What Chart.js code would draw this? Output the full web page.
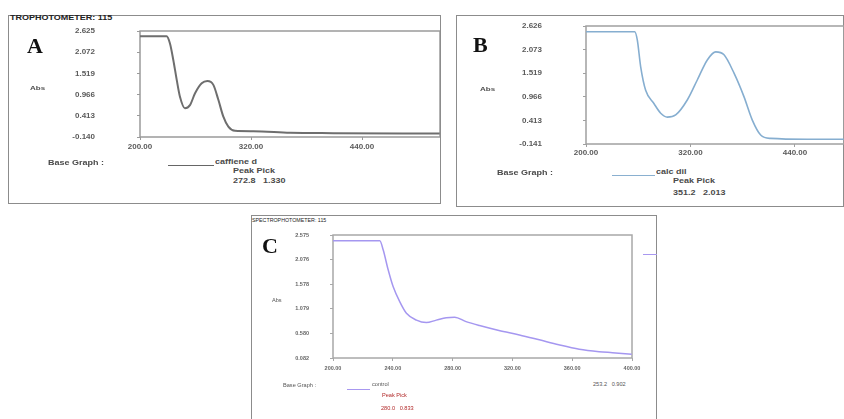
<!DOCTYPE html>
<html><head><meta charset="utf-8">
<script src="https://cdn.jsdelivr.net/npm/chart.js@4.4.0/dist/chart.umd.min.js"></script>
<style>
body{margin:0;background:#fff;width:844px;height:419px;overflow:hidden;position:relative;font-family:"Liberation Sans",Arial,sans-serif;}
.box{position:absolute;border:1px solid #8c8c8c;box-sizing:border-box;}
.t{position:absolute;white-space:nowrap;font-weight:bold;color:#4a4a4a;font-size:9px;line-height:9px;transform:scaleY(0.7);transform-origin:0 50%;}
.s{position:absolute;white-space:nowrap;color:#555;font-size:5.6px;line-height:6px;}
.big{position:absolute;font-family:"Liberation Serif","Times New Roman",serif;font-weight:bold;font-size:22px;line-height:22px;color:#111;}
.ln{position:absolute;height:0;}
canvas{position:absolute;}
</style></head><body>

<div class="box" style="left:8px;top:15px;width:433px;height:189px;"></div>
<div class="box" style="left:456px;top:15px;width:388px;height:192px;"></div>
<div class="box" style="left:251px;top:215px;width:406px;height:220px;"></div>

<canvas id="cA" width="400" height="130" style="left:40px;top:25px;width:400px;height:130px;"></canvas>
<canvas id="cB" width="374" height="145" style="left:470px;top:15px;width:374px;height:145px;"></canvas>
<canvas id="cC" width="382" height="150" style="left:260px;top:225px;width:382px;height:150px;"></canvas>

<!-- Panel A texts -->
<div class="t" style="left:10px;top:14px;color:#222;">TROPHOTOMETER: 115</div>
<div class="big" style="left:27px;top:35px;">A</div>
<div class="t" style="left:30px;top:84px;font-size:8px;">Abs</div>
<div class="t" style="left:48px;top:159px;">Base Graph :</div>
<div class="ln" style="left:168px;top:165px;width:46px;border-top:1px solid #666;"></div>
<div class="t" style="left:215px;top:158px;">caffiene d</div>
<div class="t" style="left:233px;top:167px;">Peak Pick</div>
<div class="t" style="left:233px;top:177px;">272.8&nbsp;&nbsp;&nbsp;1.330</div>

<!-- Panel B texts -->
<div class="big" style="left:473px;top:34px;">B</div>
<div class="t" style="left:480px;top:85px;font-size:8px;">Abs</div>
<div class="t" style="left:497px;top:169px;">Base Graph :</div>
<div class="ln" style="left:612px;top:175px;width:43px;border-top:1.5px solid #8ab0d0;"></div>
<div class="t" style="left:656px;top:168px;">calc dil</div>
<div class="t" style="left:673px;top:177px;">Peak Pick</div>
<div class="t" style="left:673px;top:189px;">351.2&nbsp;&nbsp;&nbsp;2.013</div>

<!-- Panel C texts -->
<div class="s" style="left:252px;top:217px;color:#222;font-size:5.3px;">SPECTROPHOTOMETER: 115</div>
<div class="big" style="left:262px;top:235px;">C</div>
<div class="s" style="left:272px;top:297px;">Abs</div>
<div class="s" style="left:283px;top:382px;">Base Graph :</div>
<div class="ln" style="left:347px;top:389px;width:23px;border-top:1px solid #a898f0;"></div>
<div class="s" style="left:372px;top:381px;">control</div>
<div class="s" style="left:382px;top:392px;color:#b22a2a;">Peak Pick</div>
<div class="s" style="left:381px;top:405px;color:#b22a2a;">280.0&nbsp;&nbsp;&nbsp;0.833</div>
<div class="s" style="left:593px;top:381px;">253.2&nbsp;&nbsp;&nbsp;0.902</div>
<div class="ln" style="left:643px;top:254px;width:14px;border-top:1px solid #a898f0;"></div>

<script>
// ---- Data ----
const xA = [200, 228.8, 232.4, 236, 239.7, 243.2, 248.6, 254, 259.5, 266.7, 272.8, 279.3, 284.7, 290.1, 295.5, 302.7, 322.5, 362.2, 409, 524];
const yA = [2.49, 2.49, 2.30, 1.87, 1.35, 0.91, 0.61, 0.69, 1.00, 1.26, 1.32, 1.22, 0.83, 0.39, 0.13, 0.02, 0.01, -0.03, -0.04, -0.05];

const xB = [200, 255.9, 258.9, 262.8, 268.5, 278, 285.8, 293.4, 303, 316.3, 327.8, 339.3, 349, 358.5, 370, 381.4, 391, 400.6, 412.1, 454.1, 496];
const yB = [2.49, 2.49, 2.30, 1.67, 1.12, 0.81, 0.58, 0.49, 0.54, 0.89, 1.36, 1.83, 2.02, 1.95, 1.52, 0.97, 0.42, 0.07, -0.01, -0.03, -0.03];

const xC = [200, 231.3, 233.6, 236.9, 240.2, 244.7, 249.1, 255.8, 262.4, 269.1, 275.8, 281.3, 289, 298, 311, 324.7, 338, 351, 364.7, 378, 386.9, 399.8];
const yC = [2.46, 2.46, 2.27, 1.87, 1.53, 1.22, 0.99, 0.85, 0.80, 0.85, 0.90, 0.91, 0.82, 0.74, 0.64, 0.55, 0.45, 0.35, 0.26, 0.21, 0.19, 0.16];

const xTicksA = [200, 320, 440];
const yTicksA = [-0.140, 0.413, 0.966, 1.519, 2.072, 2.625];
const xTicksB = [200, 320, 440];
const yTicksB = [-0.141, 0.413, 0.966, 1.519, 2.073, 2.626];
const xTicksC = [200, 240, 280, 320, 360, 400];
const yTicksC = [0.082, 0.580, 1.079, 1.578, 2.076, 2.575];

const frame = {
  id: 'frame',
  beforeDatasetsDraw(chart, args, o) {
    const {left, top, right, bottom} = chart.chartArea;
    const c = chart.ctx;
    c.save();
    c.strokeStyle = o.color; c.lineWidth = o.width;
    c.strokeRect(left, top, right - left, bottom - top);
    c.restore();
  }
};

function make(id, xs, ys, color, lw, xMax, xT, yT, g) {
  new Chart(document.getElementById(id), {
    type: 'line',
    data: { datasets: [{ data: xs.map((x, i) => ({x, y: ys[i]})), borderColor: color, borderWidth: lw,
      pointRadius: 0, cubicInterpolationMode: 'monotone', fill: false }] },
    options: {
      responsive: false, animation: false, devicePixelRatio: 1,
      layout: { padding: { top: g.pt, right: g.pr, left: 0, bottom: 0 } },
      plugins: { legend: { display: false }, tooltip: { enabled: false }, frame: { color: g.fc, width: 1.5 } },
      scales: {
        x: { type: 'linear', min: xT[0], max: xMax,
          afterBuildTicks: s => { s.ticks = xT.map(v => ({value: v})); },
          afterFit: s => { s.height = g.xh; s.paddingLeft = 0; s.paddingRight = 0; },
          border: { display: false },
          grid: { drawOnChartArea: false, drawTicks: true, tickLength: 3, color: g.fc },
          ticks: { padding: g.xp, maxRotation: 0, autoSkip: false, color: g.tc,
            font: { family: 'Liberation Sans', size: g.fs, weight: g.fw }, callback: v => Number(v).toFixed(2) } },
        y: { type: 'linear', min: yT[0], max: yT[yT.length - 1],
          afterBuildTicks: s => { s.ticks = yT.map(v => ({value: v})); },
          afterFit: s => { s.width = g.yw; s.paddingTop = 0; s.paddingBottom = 0; },
          border: { display: false },
          grid: { drawOnChartArea: false, drawTicks: true, tickLength: 3, color: g.fc },
          ticks: { padding: g.yp, autoSkip: false, color: g.tc,
            font: { family: 'Liberation Sans', size: g.fs, weight: g.fw }, callback: v => Number(v).toFixed(3) } }
      }
    },
    plugins: [frame]
  });
}

make('cA', xA, yA, '#6e6e6e', 2, 524.3, xTicksA, yTicksA,
  { pt: 6, pr: 0, xh: 18, yw: 100, xp: 2, yp: 42, fs: 8, fw: 'bold', tc: '#5a5a5a', fc: '#9a9a9a' });
make('cB', xB, yB, '#86aed0', 1.6, 496.3, xTicksB, yTicksB,
  { pt: 11, pr: 0, xh: 16, yw: 116, xp: 1, yp: 41, fs: 8, fw: 'bold', tc: '#5a5a5a', fc: '#a0a0a0' });
make('cC', xC, yC, '#a597f0', 1.5, 400, xTicksC, yTicksC,
  { pt: 10, pr: 10, xh: 17, yw: 73, xp: 4, yp: 21, fs: 5.5, fw: 'bold', tc: '#666', fc: '#a8a8a8' });
</script>
</body></html>
